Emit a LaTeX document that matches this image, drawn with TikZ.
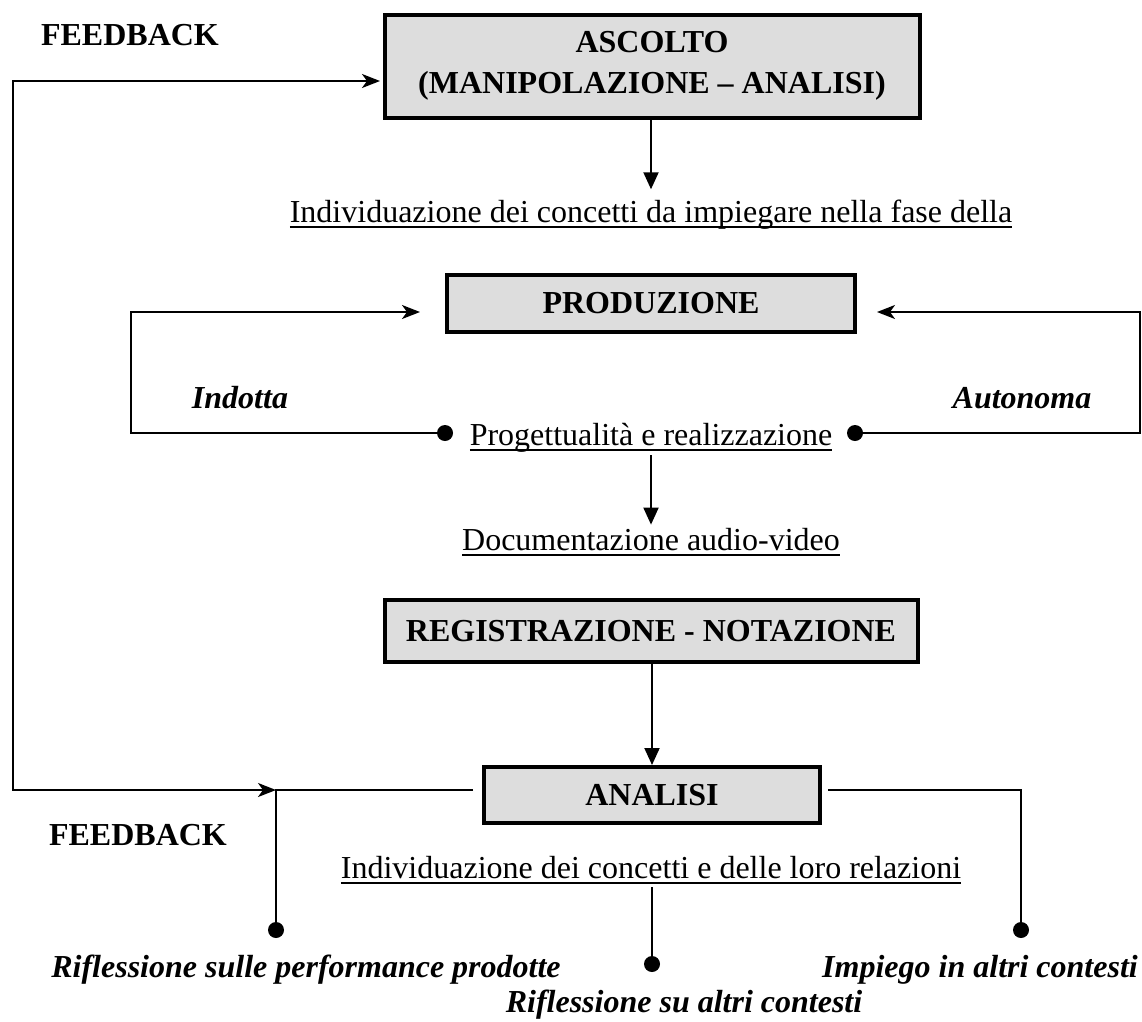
\documentclass[tikz,border=0pt]{standalone}
\usepackage{fontspec}
\setmainfont{Liberation Serif}
\usetikzlibrary{arrows.meta}
\usetikzlibrary{positioning}

\definecolor{boxgray}{RGB}{221,221,221}
\newcommand{\sottolinea}[1]{\setbox0=\hbox{#1}\rlap{\rule[-6pt]{\wd0}{2pt}}\box0}

\begin{document}
\begin{tikzpicture}
      [x=1pt,y=-1pt,
       fase/.style={rectangle,draw=black,line width=4pt,fill=boxgray,align=center,inner sep=0pt,
                    font=\fontsize{32}{41}\selectfont\bfseries},
       nota/.style={font=\fontsize{32}{38}\selectfont,inner sep=3pt,anchor=base},
       titolo/.style={font=\fontsize{32}{38}\selectfont\bfseries,inner sep=0pt},
       ramo/.style={font=\fontsize{32}{38}\selectfont\bfseries\itshape,inner sep=0pt},
       punto/.style={circle,fill=black,inner sep=0pt,minimum size=16pt},
       linea/.style={line width=2pt},
       freccia/.style={linea,-{Triangle[length=17pt,width=15pt]}},
       frecciah/.style={linea,-{Stealth[length=18pt,width=14pt,inset=5pt]}}]
      \useasboundingbox (0,0) rectangle (1142,1021);
      % place nodes
      \node[titolo] (fbalto) at (130,35) {FEEDBACK};
      \node[fase,minimum width=535pt,minimum height=103pt] (ascolto) at (652,66) {ASCOLTO\\(MANIPOLAZIONE – ANALISI)};
      \node[nota] (concetti) at (651,222) {\sottolinea{Individuazione dei concetti da impiegare nella fase della}};
      \node[fase,minimum width=408pt,minimum height=57pt] (produzione) at (651,303) {PRODUZIONE};
      \node[ramo] (indotta) at (240,398) {Indotta};
      \node[ramo] (autonoma) at (1022,398) {Autonoma};
      \node[nota] (progetto) at (651,445) {\sottolinea{Progettualità e realizzazione}};
      \node[punto] (psx) at (445,433) {};
      \node[punto] (pdx) at (855,433) {};
      \node[nota] (docum) at (651,550) {\sottolinea{Documentazione audio-video}};
      \node[fase,minimum width=533pt,minimum height=62pt] (reg) at (651,631) {REGISTRAZIONE - NOTAZIONE};
      \node[fase,minimum width=336pt,minimum height=56pt] (analisi) at (652,795) {ANALISI};
      \node[titolo] (fbbasso) at (138,835) {FEEDBACK};
      \node[nota] (relazioni) at (651,878) {\sottolinea{Individuazione dei concetti e delle loro relazioni}};
      \node[punto] (p1) at (276,930) {};
      \node[punto] (p2) at (652,964) {};
      \node[punto] (p3) at (1021,930) {};
      \node[ramo] (rifl1) at (306,970) {Riflessione sulle performance prodotte};
      \node[ramo] (impiego) at (980,970) {Impiego in altri contesti};
      \node[ramo] (rifl2) at (684,1005) {Riflessione su altri contesti};
      % free ends and corners
      \coordinate (ingasc) at (380,81);
      \coordinate (fbangolo) at (13,790);
      \coordinate (ingsx) at (420,312);
      \coordinate (ingdx) at (877,312);
      \coordinate (angsx) at (131,372);
      \coordinate (angdx) at (1140,372);
      \coordinate (nodo) at (276,790);
      \coordinate (asx) at (473,790);
      \coordinate (adx) at (828,790);
      % add edges
      \draw [freccia,shorten >=7pt] (ascolto.south -| produzione) -- (concetti.north -| produzione);
      \draw [frecciah] (psx) -| (angsx) |- (ingsx);
      \draw [frecciah] (pdx) -| (angdx) |- (ingdx);
      \draw [freccia] (progetto.south -| produzione) -- (docum.north -| produzione);
      \draw [freccia] (reg.south -| analisi) -- (analisi.north);
      \draw [linea,{Stealth[length=18pt,width=14pt,inset=5pt]}-{Stealth[length=18pt,width=14pt,inset=5pt]}] (nodo) -- (fbangolo) |- (ingasc);
      \draw [linea] (asx) -- (nodo) -- (p1);
      \draw [linea] (adx) -| (p3);
      \draw [linea] (relazioni.south -| p2) -- (p2);
    \end{tikzpicture}
\end{document}
